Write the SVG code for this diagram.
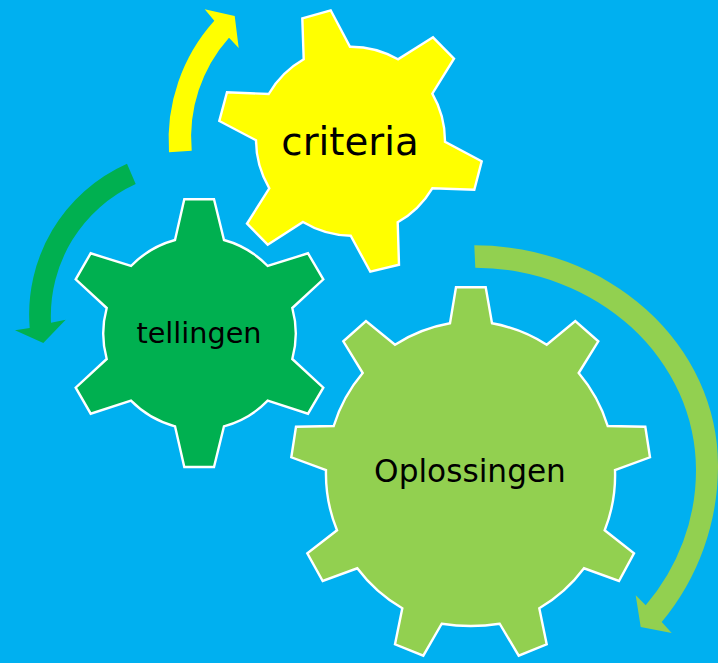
<svg xmlns="http://www.w3.org/2000/svg" width="718" height="663" viewBox="0 0 718 663">
<style>
.gear{stroke:#fff;stroke-width:2.4;stroke-linejoin:miter}
.label{font-family:"DejaVu Sans",Verdana,sans-serif;fill:#000;text-anchor:middle}
</style>
<rect width="718" height="663" fill="#00B0F0"/>
<g id="connectors">
<path id="arrow-yellow" fill="#FFFF00" d="M169 152.3A178 178 0 0 1 214.3 20.7L204.7 9.3L234.7 16L238.7 48L229 37.7A150 150 0 0 0 191.7 150.7Z"/>
<path id="arrow-green" fill="#00B050" d="M127 163.7A165 165 0 0 0 29.7 328L15 330.3L43.3 343L65.7 319.7L51 322.7A145 145 0 0 1 135.7 184Z"/>
<path id="arrow-lightgreen" fill="#92D050" d="M474.3 245.3A244 220 0 0 1 718 465A244 244 0 0 1 661.7 622L671.7 633L640.7 627L635.7 595.3L645.7 605.3A222 213 0 0 0 696 470A222 202.3 0 0 0 475.3 267.7Z"/>
</g>
<g id="gear-criteria">
<path class="gear" fill="#FFFF00" d="M302.3 18.3L330.7 10.3L350 46.7A95 95 0 0 1 398 59.3L433 37.3L454 58.7L432.3 93.7A95 95 0 0 1 445 141.7L481.7 161.3L474.3 189.7L432.3 188.3A95 95 0 0 1 397.7 222.3L399 264.7L370.3 271.7L350.7 235.7A95 95 0 0 1 303 222L267.7 244.7L247 223.7L269.3 188.3A95 95 0 0 1 256 140.3L219.3 121L227 92.3L268.7 94A95 95 0 0 1 303.7 59.3Z"/>
<text class="label" x="350" y="154.5" font-size="38.7">criteria</text>
</g>
<g id="gear-tellingen">
<path class="gear" fill="#00B050" d="M184.3 199.3L214 199.3L224 240A96 96 0 0 1 267.7 266L308 253.3L323.3 279.3L292.3 308A96 96 0 0 1 292.3 359L323.3 387.7L308 413.7L267.7 400.7A96 96 0 0 1 224 426.3L214 467L184.3 467L175 426.3A96 96 0 0 1 131 400.7L90.7 413.7L75.7 387.7L106.7 359A96 96 0 0 1 106.7 308L75.7 279.3L90.7 253.3L131 266A96 96 0 0 1 175 240Z"/>
<text class="label" x="199" y="343" font-size="28.7">tellingen</text>
</g>
<g id="gear-oplossingen">
<path class="gear" fill="#92D050" d="M456 287.3L485.7 287.3L492 323.3A150 150 0 0 1 546.7 344.7L575.3 321L598.3 341.3L578.7 373A150 150 0 0 1 607.7 426L645.3 426.7L650 457.3L615 470A150 150 0 0 1 604.7 530.3L634 553.3L619 581L584 568.3A150 150 0 0 1 539.3 608.3L546.7 644.3L518.7 655.7L499.7 623.7A180 180 0 0 1 441.7 623.7L423.3 655.7L395 644.3L402.3 608.3A150 150 0 0 1 357.3 568.3L322.7 581L307.3 553.3L337 530.3A150 150 0 0 1 326 470L291.3 457.3L296 426.7L333.7 426A150 150 0 0 1 362.7 373L343.3 341.3L366 321L395 344.7A150 150 0 0 1 450 323.3Z"/>
<text class="label" x="470" y="481.5" font-size="31.2">Oplossingen</text>
</g>
</svg>
